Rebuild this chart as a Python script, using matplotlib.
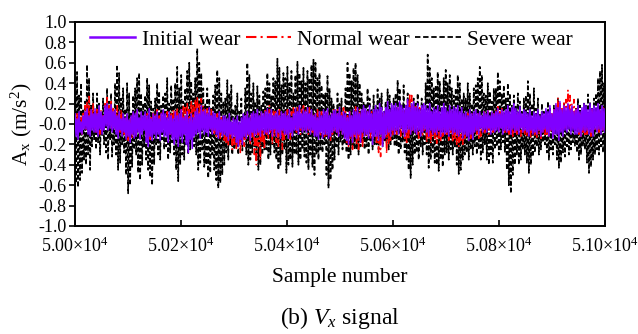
import numpy as np
import matplotlib
matplotlib.use('Agg')
import matplotlib.pyplot as plt

plt.rcParams['font.family'] = ['Liberation Serif', 'DejaVu Serif']
plt.rcParams['mathtext.fontset'] = 'custom'
plt.rcParams['mathtext.rm'] = 'Liberation Serif'
plt.rcParams['mathtext.it'] = 'Liberation Serif:italic'

# valores (10 por trecho de ~19 amostras)
severe_wear = [
    0.32, -0.58, 0.51, -0.62, 0.28, -0.55, 0.40, -0.48, 0.15, -0.35,
    0.22, -0.40, 0.58, -0.30, 0.45, -0.45, 0.18, -0.22, 0.30, -0.15,
    0.12, -0.25, 0.30, -0.18, 0.20, -0.30, 0.08, -0.12, 0.25, -0.20,
    0.18, -0.28, 0.35, -0.35, 0.22, -0.15, 0.30, -0.32, 0.10, -0.20,
    0.40, -0.30, 0.58, -0.45, 0.50, -0.38, 0.25, -0.20, 0.35, -0.28,
    0.15, -0.50, 0.40, -0.68, 0.30, -0.60, 0.12, -0.42, 0.28, -0.25,
    0.35, -0.30, 0.45, -0.48, 0.50, -0.55, 0.30, -0.40, 0.20, -0.22,
    0.28, -0.35, 0.45, -0.45, 0.38, -0.52, 0.22, -0.60, 0.15, -0.40,
    0.25, -0.20, 0.40, -0.30, 0.32, -0.35, 0.18, -0.15, 0.28, -0.25,
    0.30, -0.22, 0.45, -0.35, 0.20, -0.28, 0.38, -0.18, 0.25, -0.30,
    0.40, -0.45, 0.56, -0.56, 0.35, -0.40, 0.48, -0.30, 0.22, -0.35,
    0.35, -0.20, 0.52, -0.30, 0.60, -0.25, 0.42, -0.15, 0.30, -0.22,
    0.45, -0.30, 0.74, -0.45, 0.60, -0.38, 0.50, -0.25, 0.35, -0.42,
    0.20, -0.40, 0.35, -0.53, 0.25, -0.48, 0.15, -0.30, 0.28, -0.45,
    0.38, -0.55, 0.53, -0.63, 0.45, -0.58, 0.30, -0.50, 0.22, -0.40,
    0.25, -0.28, 0.43, -0.35, 0.30, -0.20, 0.38, -0.30, 0.15, -0.25,
    0.18, -0.22, 0.30, -0.30, 0.12, -0.18, 0.25, -0.26, 0.10, -0.15,
    0.35, -0.30, 0.60, -0.40, 0.48, -0.35, 0.30, -0.28, 0.40, -0.22,
    0.22, -0.35, 0.37, -0.45, 0.28, -0.40, 0.18, -0.30, 0.32, -0.25,
    0.35, -0.25, 0.50, -0.35, 0.40, -0.30, 0.28, -0.20, 0.45, -0.28,
    0.42, -0.35, 0.64, -0.45, 0.55, -0.40, 0.38, -0.30, 0.50, -0.25,
    0.45, -0.48, 0.56, -0.40, 0.40, -0.35, 0.52, -0.42, 0.30, -0.30,
    0.48, -0.30, 0.61, -0.40, 0.50, -0.35, 0.42, -0.25, 0.55, -0.32,
    0.40, -0.38, 0.52, -0.45, 0.45, -0.30, 0.58, -0.42, 0.63, -0.50,
    0.60, -0.30, 0.45, -0.35, 0.50, -0.25, 0.38, -0.28, 0.30, -0.20,
    0.30, -0.50, 0.47, -0.63, 0.35, -0.55, 0.25, -0.45, 0.20, -0.35,
    0.15, -0.22, 0.30, -0.30, 0.20, -0.18, 0.25, -0.25, 0.12, -0.20,
    0.35, -0.28, 0.60, -0.35, 0.50, -0.30, 0.42, -0.22, 0.55, -0.25,
    0.60, -0.25, 0.48, -0.30, 0.40, -0.22, 0.30, -0.18, 0.22, -0.25,
    0.20, -0.22, 0.35, -0.30, 0.25, -0.18, 0.15, -0.25, 0.28, -0.20,
    0.18, -0.20, 0.34, -0.25, 0.25, -0.15, 0.30, -0.22, 0.12, -0.18,
    0.22, -0.18, 0.34, -0.25, 0.28, -0.20, 0.15, -0.15, 0.25, -0.22,
    0.30, -0.22, 0.43, -0.30, 0.35, -0.25, 0.20, -0.18, 0.38, -0.28,
    0.18, -0.35, 0.30, -0.45, 0.22, -0.53, 0.12, -0.40, 0.25, -0.30,
    0.20, -0.28, 0.30, -0.35, 0.15, -0.22, 0.25, -0.30, 0.10, -0.20,
    0.40, -0.30, 0.68, -0.43, 0.55, -0.35, 0.45, -0.28, 0.35, -0.38,
    0.38, -0.40, 0.51, -0.46, 0.42, -0.35, 0.30, -0.42, 0.45, -0.30,
    0.53, -0.28, 0.40, -0.35, 0.48, -0.25, 0.35, -0.30, 0.28, -0.22,
    0.35, -0.40, 0.48, -0.49, 0.40, -0.45, 0.25, -0.35, 0.30, -0.30,
    0.25, -0.28, 0.40, -0.35, 0.30, -0.25, 0.20, -0.30, 0.35, -0.22,
    0.38, -0.30, 0.45, -0.25, 0.56, -0.35, 0.48, -0.28, 0.30, -0.20,
    0.28, -0.35, 0.40, -0.40, 0.32, -0.30, 0.22, -0.38, 0.35, -0.25,
    0.35, -0.22, 0.51, -0.30, 0.42, -0.25, 0.30, -0.18, 0.38, -0.28,
    0.25, -0.45, 0.40, -0.60, 0.30, -0.68, 0.18, -0.50, 0.28, -0.40,
    0.18, -0.30, 0.30, -0.40, 0.22, -0.35, 0.12, -0.25, 0.25, -0.30,
    0.28, -0.38, 0.42, -0.48, 0.30, -0.40, 0.20, -0.32, 0.35, -0.28,
    0.15, -0.22, 0.25, -0.30, 0.10, -0.25, 0.20, -0.18, 0.12, -0.20,
    0.12, -0.28, 0.22, -0.35, 0.15, -0.25, 0.08, -0.30, 0.18, -0.20,
    0.15, -0.35, 0.25, -0.43, 0.18, -0.38, 0.10, -0.28, 0.20, -0.32,
    0.12, -0.22, 0.20, -0.30, 0.08, -0.25, 0.15, -0.18, 0.10, -0.22,
    0.15, -0.28, 0.25, -0.35, 0.18, -0.30, 0.10, -0.22, 0.20, -0.25,
    0.18, -0.38, 0.29, -0.48, 0.22, -0.42, 0.15, -0.35, 0.25, -0.30,
    0.30, -0.25, 0.45, -0.30, 0.52, -0.22, 0.58, -0.28, 0.40, -0.20,
]

normal_wear = [
    0.05, -0.08, 0.10, -0.12, 0.02, -0.06, 0.08, -0.10, 0.12, -0.04,
    0.18, -0.05, 0.22, -0.02, 0.27, -0.06, 0.15, 0.00, 0.20, -0.04,
    0.12, -0.08, 0.16, -0.04, 0.10, -0.10, 0.14, -0.06, 0.08, -0.02,
    0.20, 0.02, 0.26, -0.02, 0.18, 0.04, 0.22, -0.04, 0.15, 0.00,
    0.12, -0.06, 0.18, -0.02, 0.10, -0.08, 0.14, -0.04, 0.08, -0.10,
    0.05, -0.12, 0.08, -0.16, 0.03, -0.10, 0.06, -0.14, 0.10, -0.08,
    0.08, -0.10, 0.12, -0.06, 0.05, -0.12, 0.10, -0.08, 0.06, -0.05,
    0.06, -0.12, 0.10, -0.08, 0.04, -0.15, 0.08, -0.10, 0.12, -0.06,
    0.10, -0.06, 0.14, -0.04, 0.08, -0.08, 0.12, -0.02, 0.06, -0.05,
    0.08, -0.08, 0.12, -0.05, 0.06, -0.10, 0.10, -0.06, 0.14, -0.04,
    0.12, -0.05, 0.16, -0.02, 0.10, -0.08, 0.14, -0.04, 0.18, -0.06,
    0.16, -0.04, 0.20, 0.00, 0.14, -0.06, 0.22, -0.02, 0.18, 0.02,
    0.24, 0.04, 0.27, 0.00, 0.20, 0.06, 0.25, 0.02, 0.18, -0.02,
    0.12, -0.04, 0.15, -0.08, 0.10, -0.02, 0.14, -0.06, 0.08, -0.10,
    0.06, -0.12, 0.10, -0.08, 0.04, -0.14, 0.08, -0.10, 0.02, -0.16,
    0.00, -0.18, 0.04, -0.22, -0.02, -0.15, 0.02, -0.25, 0.05, -0.20,
    -0.02, -0.24, 0.02, -0.20, -0.04, -0.28, 0.00, -0.18, 0.04, -0.22,
    0.06, -0.16, 0.10, -0.12, 0.04, -0.20, 0.08, -0.14, 0.12, -0.30,
    0.05, -0.40, 0.10, -0.22, 0.06, -0.35, 0.12, -0.18, 0.08, -0.25,
    0.15, -0.10, 0.12, -0.15, 0.18, -0.08, 0.10, -0.20, 0.14, -0.12,
    0.12, -0.18, 0.08, -0.22, 0.14, -0.12, 0.06, -0.25, 0.10, -0.15,
    0.10, -0.12, 0.14, -0.08, 0.08, -0.15, 0.12, -0.10, 0.16, -0.06,
    0.12, -0.08, 0.16, -0.05, 0.10, -0.10, 0.14, -0.06, 0.18, -0.04,
    0.14, -0.06, 0.10, -0.10, 0.16, -0.04, 0.12, -0.08, 0.08, -0.12,
    0.10, -0.10, 0.14, -0.06, 0.08, -0.12, 0.12, -0.08, 0.06, -0.14,
    0.08, -0.12, 0.12, -0.08, 0.06, -0.16, 0.10, -0.10, 0.14, -0.06,
    0.10, -0.08, 0.14, -0.12, 0.08, -0.06, 0.12, -0.10, 0.16, -0.05,
    0.12, -0.18, 0.08, -0.22, 0.14, -0.15, 0.06, -0.25, 0.10, -0.12,
    0.17, -0.20, 0.12, -0.25, 0.15, -0.18, 0.10, -0.22, 0.14, -0.10,
    0.10, -0.12, 0.14, -0.08, 0.08, -0.15, 0.12, -0.10, 0.06, -0.06,
    0.08, -0.20, 0.12, -0.28, 0.06, -0.32, 0.10, -0.18, 0.12, -0.14,
    0.10, -0.29, 0.14, -0.20, 0.08, -0.16, 0.12, -0.12, 0.10, -0.08,
    0.12, -0.10, 0.16, -0.06, 0.10, -0.12, 0.14, -0.08, 0.12, -0.14,
    0.14, -0.20, 0.22, -0.15, 0.30, -0.10, 0.28, -0.06, 0.18, -0.08,
    0.17, -0.10, 0.12, -0.14, 0.16, -0.08, 0.10, -0.12, 0.14, -0.06,
    0.10, -0.18, 0.08, -0.15, 0.12, -0.19, 0.06, -0.12, 0.10, -0.16,
    0.08, -0.19, 0.12, -0.14, 0.06, -0.17, 0.10, -0.12, 0.08, -0.10,
    0.10, -0.12, 0.06, -0.16, 0.12, -0.10, 0.08, -0.18, 0.05, -0.14,
    0.06, -0.20, 0.04, -0.22, 0.08, -0.16, 0.02, -0.20, 0.06, -0.14,
    0.08, -0.12, 0.12, -0.08, 0.06, -0.14, 0.10, -0.10, 0.08, -0.06,
    0.06, -0.10, 0.10, -0.14, 0.04, -0.12, 0.08, -0.08, 0.12, -0.10,
    0.10, -0.06, 0.13, -0.10, 0.08, -0.04, 0.12, -0.08, 0.10, -0.05,
    0.14, -0.04, 0.17, -0.08, 0.12, -0.02, 0.15, -0.06, 0.10, -0.08,
    0.10, -0.08, 0.12, -0.10, 0.08, -0.06, 0.14, -0.12, 0.10, -0.08,
    0.08, -0.10, 0.12, -0.06, 0.06, -0.12, 0.10, -0.08, 0.04, -0.10,
    0.04, -0.12, 0.06, -0.10, 0.02, -0.14, 0.05, -0.08, 0.03, -0.12,
    0.02, -0.13, 0.05, -0.10, 0.00, -0.14, 0.04, -0.08, 0.02, -0.12,
    0.05, -0.10, 0.08, -0.13, 0.06, -0.08, 0.10, -0.12, 0.14, -0.06,
    0.18, -0.04, 0.26, -0.02, 0.20, -0.06, 0.15, 0.00, 0.22, -0.04,
    0.24, 0.02, 0.33, -0.02, 0.28, 0.04, 0.20, -0.04, 0.24, 0.00,
    0.16, -0.06, 0.12, -0.10, 0.10, -0.13, 0.08, -0.08, 0.06, -0.12,
    0.08, -0.10, 0.12, -0.06, 0.10, -0.12, 0.14, -0.08, 0.10, -0.05,
    0.12, -0.06, 0.10, -0.08, 0.14, -0.04, 0.12, -0.06, 0.16, -0.02,
]

initial_wear = [
    0.10, -0.12, 0.05, -0.15, 0.12, -0.08, 0.02, -0.10, 0.08, -0.05,
    0.12, -0.05, 0.15, -0.10, 0.08, -0.12, 0.14, -0.06, 0.10, -0.08,
    0.15, -0.08, 0.10, -0.12, 0.18, -0.05, 0.12, -0.10, 0.08, -0.06,
    0.18, -0.02, 0.20, -0.06, 0.15, -0.04, 0.19, -0.08, 0.12, -0.05,
    0.14, -0.10, 0.08, -0.14, 0.12, -0.06, 0.05, -0.12, 0.10, -0.08,
    0.06, -0.15, 0.10, -0.12, 0.04, -0.18, 0.08, -0.10, 0.12, -0.14,
    0.10, -0.12, 0.14, -0.08, 0.06, -0.15, 0.12, -0.10, 0.08, -0.06,
    0.12, -0.18, 0.08, -0.22, 0.15, -0.12, 0.05, -0.16, 0.10, -0.10,
    0.08, -0.14, 0.12, -0.10, 0.05, -0.16, 0.10, -0.08, 0.14, -0.12,
    0.10, -0.12, 0.06, -0.18, 0.12, -0.10, 0.08, -0.15, 0.05, -0.20,
    0.12, -0.15, 0.08, -0.22, 0.10, -0.12, 0.14, -0.18, 0.06, -0.10,
    0.08, -0.20, 0.12, -0.28, 0.05, -0.15, 0.10, -0.24, 0.06, -0.12,
    0.12, -0.10, 0.15, -0.08, 0.10, -0.14, 0.18, -0.06, 0.12, -0.10,
    0.14, -0.08, 0.10, -0.12, 0.16, -0.05, 0.08, -0.10, 0.12, -0.06,
    0.10, -0.10, 0.06, -0.14, 0.12, -0.08, 0.04, -0.12, 0.08, -0.10,
    0.08, -0.12, 0.05, -0.16, 0.10, -0.10, 0.02, -0.14, 0.06, -0.12,
    0.04, -0.18, 0.08, -0.22, 0.02, -0.15, 0.06, -0.20, 0.10, -0.12,
    0.08, -0.14, 0.12, -0.10, 0.06, -0.16, 0.10, -0.08, 0.12, -0.12,
    0.10, -0.10, 0.14, -0.08, 0.08, -0.12, 0.12, -0.06, 0.10, -0.10,
    0.12, -0.08, 0.15, -0.10, 0.10, -0.06, 0.14, -0.12, 0.08, -0.05,
    0.10, -0.12, 0.13, -0.08, 0.08, -0.14, 0.12, -0.06, 0.10, -0.10,
    0.12, -0.10, 0.08, -0.14, 0.14, -0.08, 0.06, -0.12, 0.10, -0.06,
    0.15, -0.06, 0.12, -0.10, 0.18, -0.04, 0.10, -0.08, 0.14, -0.06,
    0.12, -0.08, 0.16, -0.05, 0.10, -0.10, 0.14, -0.06, 0.08, -0.12,
    0.10, -0.12, 0.06, -0.15, 0.12, -0.08, 0.08, -0.14, 0.14, -0.10,
    0.12, -0.10, 0.15, -0.14, 0.08, -0.12, 0.10, -0.08, 0.13, -0.06,
    0.14, -0.08, 0.10, -0.12, 0.16, -0.06, 0.08, -0.10, 0.12, -0.14,
    0.10, -0.16, 0.06, -0.20, 0.12, -0.12, 0.08, -0.18, 0.14, -0.10,
    0.12, -0.14, 0.16, -0.10, 0.10, -0.18, 0.14, -0.08, 0.18, -0.12,
    0.15, -0.10, 0.12, -0.14, 0.18, -0.08, 0.10, -0.20, 0.14, -0.12,
    0.18, -0.12, 0.14, -0.16, 0.20, -0.10, 0.16, -0.22, 0.12, -0.14,
    0.16, -0.10, 0.22, -0.08, 0.14, -0.12, 0.20, -0.06, 0.18, -0.10,
    0.20, -0.06, 0.16, -0.10, 0.22, -0.04, 0.18, -0.08, 0.15, -0.12,
    0.18, -0.08, 0.24, -0.05, 0.16, -0.10, 0.20, -0.06, 0.22, -0.08,
    0.16, -0.10, 0.20, -0.06, 0.14, -0.12, 0.18, -0.08, 0.20, -0.05,
    0.18, -0.08, 0.15, -0.12, 0.20, -0.06, 0.12, -0.10, 0.16, -0.08,
    0.14, -0.10, 0.18, -0.06, 0.12, -0.12, 0.16, -0.08, 0.20, -0.10,
    0.16, -0.08, 0.12, -0.12, 0.18, -0.06, 0.14, -0.10, 0.17, -0.08,
    0.15, -0.10, 0.18, -0.12, 0.12, -0.08, 0.16, -0.14, 0.10, -0.10,
    0.12, -0.12, 0.08, -0.16, 0.14, -0.10, 0.10, -0.15, 0.12, -0.08,
    0.14, -0.06, 0.10, -0.10, 0.12, -0.04, 0.08, -0.08, 0.12, -0.05,
    0.10, -0.08, 0.13, -0.04, 0.08, -0.10, 0.12, -0.06, 0.10, -0.08,
    0.12, -0.06, 0.15, -0.08, 0.10, -0.04, 0.14, -0.10, 0.12, -0.06,
    0.14, -0.08, 0.18, -0.06, 0.12, -0.10, 0.16, -0.05, 0.20, -0.08,
    0.15, -0.06, 0.12, -0.10, 0.17, -0.04, 0.10, -0.08, 0.14, -0.06,
    0.12, -0.08, 0.10, -0.12, 0.14, -0.06, 0.08, -0.10, 0.12, -0.08,
    0.10, -0.10, 0.14, -0.06, 0.08, -0.12, 0.12, -0.08, 0.10, -0.05,
    0.15, -0.08, 0.12, -0.12, 0.18, -0.06, 0.10, -0.14, 0.14, -0.10,
    0.20, -0.10, 0.16, -0.16, 0.22, -0.08, 0.14, -0.12, 0.18, -0.06,
    0.16, -0.08, 0.20, -0.05, 0.14, -0.10, 0.18, -0.06, 0.12, -0.10,
    0.14, -0.10, 0.18, -0.08, 0.12, -0.12, 0.16, -0.06, 0.20, -0.08,
    0.18, -0.06, 0.14, -0.10, 0.20, -0.08, 0.15, -0.12, 0.18, -0.05,
    0.16, -0.08, 0.20, -0.05, 0.14, -0.10, 0.18, -0.06, 0.15, -0.08,
]

x_start, x_end = 50000, 51000
x_ticks = [50000, 50200, 50400, 50600, 50800, 51000]
x_tick_labels = [r'$5.00{\times}10^4$', r'$5.02{\times}10^4$', r'$5.04{\times}10^4$',
                 r'$5.06{\times}10^4$', r'$5.08{\times}10^4$', r'$5.10{\times}10^4$']
y_ticks = np.round(np.arange(-1.0, 1.01, 0.2), 1)

x_sev = np.linspace(x_start, x_end, len(severe_wear))
x_nor = np.linspace(x_start, x_end, len(normal_wear))
x_ini = np.linspace(x_start, x_end, len(initial_wear))

fig = plt.figure(figsize=(6.38, 3.34), dpi=100)
ax = fig.add_axes([0.1176, 0.3234, 0.8307, 0.6108])

l3, = ax.plot(x_sev, severe_wear, color='black', linestyle=(0, (2.5, 1.5)), linewidth=1.2, zorder=1)
l2, = ax.plot(x_nor, normal_wear, color='red', linestyle=(0, (5, 2, 1, 2)), linewidth=1.1, zorder=2)
l1, = ax.plot(x_ini, initial_wear, color='#8000ff', linestyle='-', linewidth=1.1, zorder=3)

ax.set_xlim(x_start, x_end)
ax.set_ylim(-1.0, 1.0)
ax.set_xticks(x_ticks)
ax.set_xticklabels(x_tick_labels)
ax.set_yticks(y_ticks)
ax.set_yticklabels([f'{v:.1f}' for v in y_ticks])
ax.tick_params(axis='x', direction='in', length=4, width=1.2, labelsize=13, pad=8)
ax.tick_params(axis='y', direction='out', length=4, width=1.2, labelsize=13, pad=2)
for s in ax.spines.values():
    s.set_linewidth(1.4)

ax.set_xlabel('Sample number', fontsize=15.5, labelpad=8)
ax.set_ylabel(r'A$_\mathrm{x}$ (m/s$^2$)', fontsize=15.5, labelpad=3)

leg_handles = [
    plt.Line2D([], [], color='#8000ff', linestyle='-', linewidth=1.8),
    plt.Line2D([], [], color='red', linestyle=(0, (5, 2, 1, 2)), linewidth=1.5),
    plt.Line2D([], [], color='black', linestyle=(0, (3, 1.5)), linewidth=1.3),
]
ax.legend(leg_handles, ['Initial wear', 'Normal wear', 'Severe wear'],
          loc='upper left', bbox_to_anchor=(0.0, 1.035), ncol=3, frameon=False,
          fontsize=15.5, handlelength=2.1, handletextpad=0.3, columnspacing=0.25,
          borderaxespad=0.3)

fig.text(0.533, 0.048, r'(b) $V_x$ signal', fontsize=17, ha='center', va='center')

plt.savefig('out.png', dpi=100)
